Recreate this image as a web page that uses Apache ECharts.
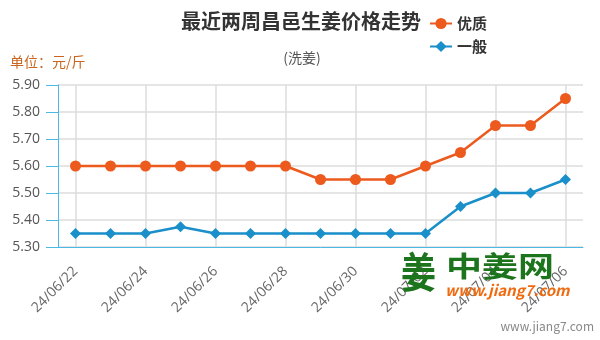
<!DOCTYPE html>
<html>
<head>
<meta charset="utf-8">
<script src="https://cdn.jsdelivr.net/npm/echarts@6/dist/echarts.min.js"></script>
<style>
  html, body { margin: 0; padding: 0; background: #fff; }
  #chart { width: 600px; height: 340px; }
</style>
</head>
<body>
<div id="chart"></div>
<script>
// Dates (24/06/22 .. 24/07/06) and daily prices, yuan per jin
var categories = ['24/06/22','24/06/23','24/06/24','24/06/25','24/06/26','24/06/27','24/06/28','24/06/29','24/06/30','24/07/01','24/07/02','24/07/03','24/07/04','24/07/05','24/07/06'];
var premium = [5.60,5.60,5.60,5.60,5.60,5.60,5.60,5.55,5.55,5.55,5.60,5.65,5.75,5.75,5.85];
var ordinary = [5.35,5.35,5.35,5.375,5.35,5.35,5.35,5.35,5.35,5.35,5.35,5.45,5.50,5.50,5.55];
var yTicks = [5.30,5.40,5.50,5.60,5.70,5.80,5.90];

var FONT = '"Noto Sans CJK SC", "Noto Sans", sans-serif';
var NUM_FONT = '"Open Sans", "Noto Sans", sans-serif';
var AXIS_BLUE = '#4cb8e6';
var GREEN = '#1c741c';

var chart = echarts.init(document.getElementById('chart'));
chart.setOption({
  animation: false,
  textStyle: { fontFamily: FONT },
  title: [
    { text: '最近两周昌邑生姜价格走势', left: 296, top: 6, textAlign: 'center',
      textStyle: { fontSize: 20, fontWeight: 'bold', color: '#333', fontFamily: FONT } },
    { text: '(洗姜)', left: 297, top: 46, textAlign: 'center',
      textStyle: { fontSize: 14, fontWeight: 'normal', color: '#555', fontFamily: FONT } },
    { text: '单位：元/斤', left: 5, top: 50,
      textStyle: { fontSize: 14, fontWeight: 'normal', color: '#c9651e', fontFamily: FONT } }
  ],
  legend: {
    orient: 'vertical', left: 424, top: 11, itemGap: 8,
    itemWidth: 22, itemHeight: 14,
    textStyle: { fontSize: 15, fontWeight: 'bold', color: '#333', fontFamily: FONT },
    data: ['优质', '一般']
  },
  grid: { left: 58, right: 17, top: 85, bottom: 93 },
  xAxis: {
    type: 'category', data: categories, boundaryGap: true,
    axisLine: { lineStyle: { color: AXIS_BLUE, width: 1 } },
    axisTick: { alignWithLabel: true, interval: 1, length: 12, lineStyle: { color: AXIS_BLUE } },
    splitLine: { show: true, alignWithLabel: true, interval: 1, lineStyle: { color: '#dcdcdc', width: 1.5 } },
    axisLabel: { interval: 1, rotate: 45, fontSize: 14, color: '#666', margin: 22, fontFamily: NUM_FONT }
  },
  yAxis: {
    type: 'value', min: yTicks[0], max: yTicks[yTicks.length - 1], interval: 0.1,
    axisLine: { show: true, lineStyle: { color: AXIS_BLUE, width: 1 } },
    axisTick: { show: true, length: 12, lineStyle: { color: AXIS_BLUE } },
    splitLine: { lineStyle: { color: '#dcdcdc', width: 1.5 } },
    axisLabel: { fontSize: 14, color: '#555', margin: 18, fontFamily: NUM_FONT,
      formatter: function (v) { return v.toFixed(2); } }
  },
  series: [
    { name: '优质', type: 'line', data: premium, symbol: 'circle', symbolSize: 11,
      itemStyle: { color: '#ec5a1e' }, lineStyle: { width: 2.5, color: '#ec5a1e' } },
    { name: '一般', type: 'line', data: ordinary, symbol: 'diamond', symbolSize: 11,
      itemStyle: { color: '#1a8fc9' }, lineStyle: { width: 2.5, color: '#1a8fc9' } }
  ],
  graphic: [
    { type: 'text', x: 401, y: 251, scaleY: 1.2, z: 100,
      style: { text: '姜', font: 'bold 35px ' + FONT, fill: GREEN } },
    { type: 'text', x: 446, y: 252, scaleY: 0.78, z: 100,
      style: { text: '中姜网', font: 'bold 36px ' + FONT, fill: GREEN } },
    { type: 'text', x: 445, y: 283, z: 100,
      style: { text: 'www.jiang7.com', font: 'italic bold 15px ' + FONT, fill: '#f06a0f' } },
    { type: 'text', right: 6, top: 320, z: 100,
      style: { text: 'www.jiang7.com', font: '12px ' + FONT, fill: '#888' } }
  ]
});
</script>
</body>
</html>
